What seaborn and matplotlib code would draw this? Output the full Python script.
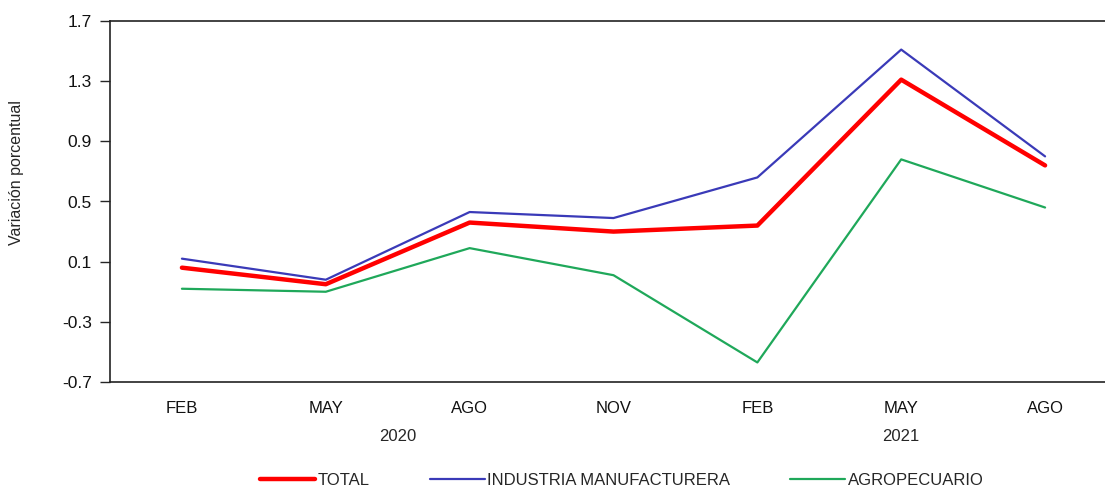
import matplotlib
matplotlib.use('Agg')
import numpy as np
import pandas as pd
import matplotlib.pyplot as plt
from matplotlib.lines import Line2D
import seaborn as sns

# Values
months = ['FEB', 'MAY', 'AGO', 'NOV', 'FEB', 'MAY', 'AGO']
total = [0.06, -0.05, 0.36, 0.30, 0.34, 1.31, 0.74]
industria = [0.12, -0.02, 0.43, 0.39, 0.66, 1.51, 0.80]
agro = [-0.08, -0.10, 0.19, 0.01, -0.57, 0.78, 0.46]
years = ['2020', '2021']
yticks = [-0.7, -0.3, 0.1, 0.5, 0.9, 1.3, 1.7]

series = ['TOTAL', 'INDUSTRIA MANUFACTURERA', 'AGROPECUARIO']
colors = {'TOTAL': '#ff0000', 'INDUSTRIA MANUFACTURERA': '#3a3ab8', 'AGROPECUARIO': '#1fa85a'}
widths = {'TOTAL': 3.2, 'INDUSTRIA MANUFACTURERA': 1.6, 'AGROPECUARIO': 1.6}

df = pd.DataFrame({
    'x': list(range(len(months))) * 3,
    'valor': total + industria + agro,
    'serie': np.repeat(series, len(months)),
})

sns.set_style('white')
plt.rcParams['font.family'] = ['Liberation Sans', 'DejaVu Sans']

fig = plt.figure(figsize=(11.05, 4.86), dpi=100)
ax = fig.add_axes([110 / 1105, 1 - 382 / 486, 1007 / 1105, 361 / 486])

# draw in order so the thick red line sits on top
for name in ['AGROPECUARIO', 'INDUSTRIA MANUFACTURERA', 'TOTAL']:
    sns.lineplot(data=df[df['serie'] == name], x='x', y='valor', color=colors[name],
                 linewidth=widths[name], ax=ax, legend=False)

ax.set_xlim(-0.5, 6.5)
ax.set_ylim(-0.7, 1.7)
ax.set_yticks(yticks)
ax.set_yticklabels([f'{v:.1f}' for v in yticks], fontsize=12.5, color='#111111')
ax.set_xticks(range(len(months)))
ax.set_xticklabels(months, fontsize=12, color='#111111')
ax.tick_params(axis='y', direction='out', length=7, width=1, pad=6, left=True)
ax.tick_params(axis='x', length=0, pad=14)
ax.set_xlabel('')
ax.set_ylabel('Variación porcentual', fontsize=11.5, labelpad=12)
ax.yaxis.set_label_coords(-0.085, 0.58)
for sp in ax.spines.values():
    sp.set_color('#222222')
    sp.set_linewidth(1.2)

# year labels below the month labels
ax.text(1.5, -0.15, years[0], transform=ax.get_xaxis_transform(), ha='center', va='center', fontsize=12)
ax.text(5.0, -0.15, years[1], transform=ax.get_xaxis_transform(), ha='center', va='center', fontsize=12)

handles = [Line2D([0], [0], color=colors[s], lw=widths[s]) for s in series]
fig.legend(handles, series, loc='center', bbox_to_anchor=(0.563, 0.012), ncol=3, frameon=False,
           fontsize=12, handlelength=3.3, handletextpad=0.15, columnspacing=3.6)

fig.savefig('out.png', dpi=100)
